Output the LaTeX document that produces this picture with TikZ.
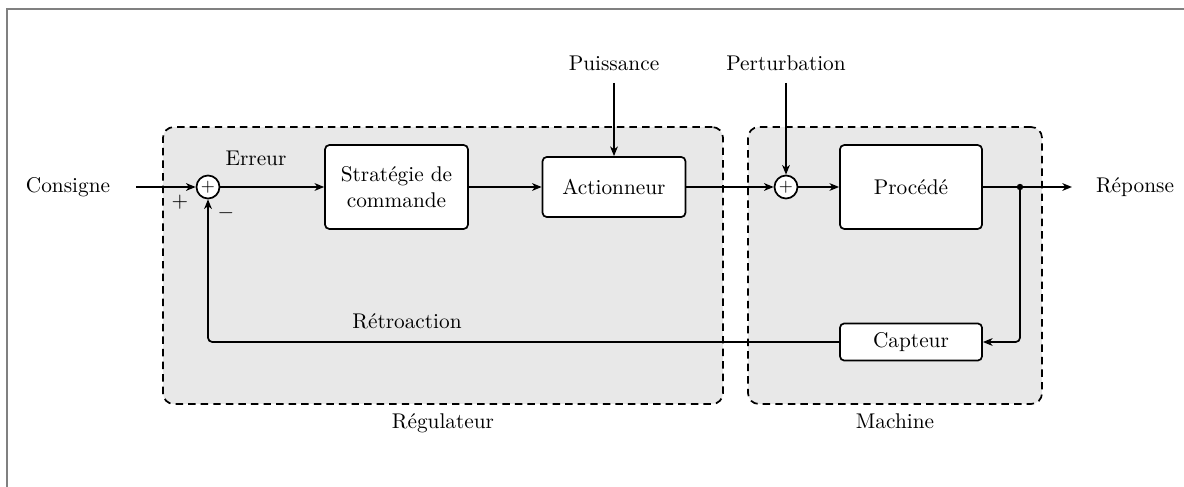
\documentclass[tikz,border=0pt]{standalone}
\usetikzlibrary{arrows.meta}
\definecolor{zonefill}{RGB}{232,232,232}
\definecolor{framegray}{RGB}{128,128,128}
\begin{document}
\begin{tikzpicture}[x=0.4695pt,y=-0.4695pt,
  line width=0.8pt,
  >={Stealth[length=4.5pt,width=3.6pt,inset=1.3pt]},
  blk/.style={draw, fill=white, rounded corners=2pt, align=center, inner sep=0pt, line width=0.8pt},
  sumnode/.style={draw, fill=white, circle, inner sep=0pt, minimum size=10.8pt, font=\footnotesize},
  zone/.style={draw, dashed, dash pattern=on 3.5pt off 2.4pt, fill=zonefill, rounded corners=5pt, inner sep=0pt, line width=0.8pt},
  lbl/.style={inner sep=1pt}
]
\useasboundingbox (0,0) rectangle (1184,487);
% outer frame
\draw[framegray, line width=1pt] (1184,9) -- (7,9) -- (7,487);

% zones
\node[zone, minimum width=262.9pt, minimum height=130pt] (reg) at (443,265.5) {};
\node[zone, minimum width=138pt, minimum height=130pt] (mach) at (895,265.5) {};
\node[lbl, anchor=base] (regl) at (443,428) {Régulateur};
\node[lbl, anchor=base] (machl) at (895,428) {Machine};

% nodes
\node[lbl] (consigne) at (68,187) {Consigne};
\coordinate (in) at (136,187);
\node[sumnode] (s1) at (208,187) {$+$};
\node[blk, minimum width=67.1pt, minimum height=39.4pt] (strat) at (396.5,187) {Stratégie de\\commande};
\node[blk, minimum width=67.1pt, minimum height=28.2pt] (act) at (614,187) {Actionneur};
\node[sumnode] (s2) at (786,187) {$+$};
\node[blk, minimum width=66.7pt, minimum height=39.4pt] (proc) at (911,187) {Procédé};
\coordinate (dot) at (1020,187);
\coordinate (out) at (1072,187);
\node[lbl] (rep) at (1135,187) {Réponse};
\node[blk, minimum width=66.7pt, minimum height=17.4pt] (capt) at (911,342) {Capteur};
\node[lbl] (puis) at (614,63) {Puissance};
\coordinate (puisin) at (614,83);
\node[lbl] (pert) at (786,63) {Perturbation};
\coordinate (pertin) at (786,83);

% labels
\node[lbl] (err) at (256,158) {Erreur};
\node[lbl] (plus) at (180,202) {$+$};
\node[lbl] (minus) at (226,213) {$-$};
\node[lbl] (retro) at (407,321) {Rétroaction};

% connectors
\draw[->] (in) -- (s1.west);
\draw[->] (s1.east) -- (strat.west);
\draw[->] (strat.east) -- (act.west);
\draw[->] (act.east) -- (s2.west);
\draw[->] (s2.east) -- (proc.west);
\draw[->] (proc.east) -- (out);
\fill (dot) circle (1.5pt);
\draw[->, rounded corners=2pt] (dot) -- (dot |- capt.east) -- (capt.east);
\draw[->, rounded corners=2pt] (capt.west) -- (s1 |- capt.west) -- (s1.south);
\draw[->] (puisin) -- (act.north);
\draw[->] (pertin) -- (s2.north);
\end{tikzpicture}
\end{document}
